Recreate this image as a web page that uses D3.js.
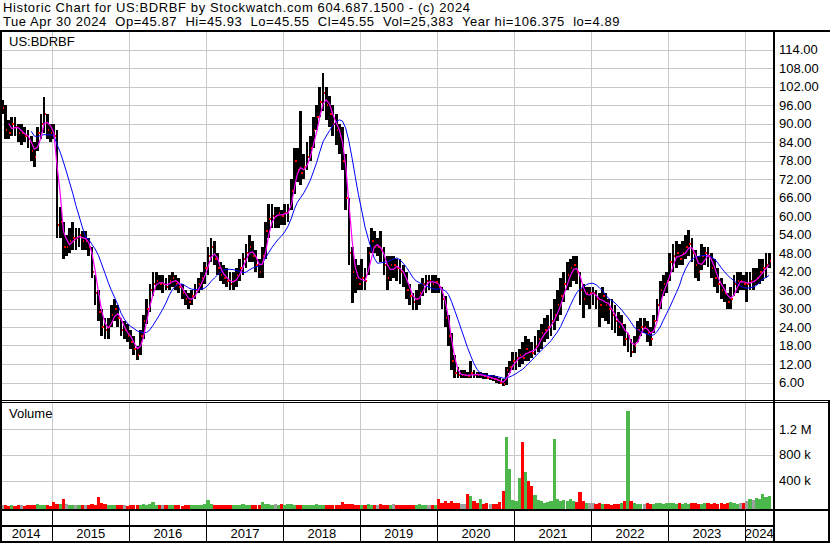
<!DOCTYPE html>
<html>
<head>
<meta charset="utf-8">
<script src="https://cdnjs.cloudflare.com/ajax/libs/d3/7.8.5/d3.min.js"></script>
<style>
  body { margin: 0; background: #fff; }
  text { font-family: "Liberation Sans", Arial, sans-serif; fill: #000; }
</style>
</head>
<body>
<script>
// half-monthly bars, May 2014 .. Apr 2024 (two per month)
var high = [
  97.5, 96, 91, 92, 92, 90, 90, 89, 88, 86, 84, 89, 93, 98.6, 93, 90,                          // 2014 May-Dec
  90, 88, 63, 58, 54, 56, 58, 56, 56, 55, 55, 53, 50, 41, 36, 30, 27, 27, 31, 33, 31, 27, 26, 25, // 2015
  23, 21, 18, 23, 28, 33, 38, 42, 42, 41, 41, 40, 41, 42, 41, 40, 38, 36, 35, 36, 38, 40, 42, 45, // 2016
  50, 53, 52, 48, 45, 44, 43, 42, 42, 43, 46, 48, 51, 54, 52, 49, 46, 50, 58, 64, 64, 63, 63, 62, // 2017
  64, 64, 72, 82, 82, 94, 80, 84, 86, 92, 96, 102, 106.4, 102, 99, 96, 93, 90, 89, 80, 66, 50, 46, 44, // 2018
  46, 43, 50, 56, 55, 53, 55, 50, 47, 47, 47, 46, 46, 44, 42, 38, 35, 36, 38, 40, 41, 41, 41, 41, // 2019
  40, 37, 34, 28, 22, 15, 11, 10, 10, 9.5, 13, 10, 9.5, 9.5, 9, 9, 8.5, 8.5, 8, 7.5, 7, 11, 13, 16, // 2020
  16, 17, 19, 21, 20, 19, 21, 23, 25, 27, 28, 30, 33, 36, 40, 42, 45, 46, 47, 47, 42, 38, 37, 37, // 2021
  37, 36, 35, 37, 35, 33, 33, 31, 29, 28, 25, 22, 20, 21, 26, 27, 27, 26, 24, 28, 33, 39, 41, 42, // 2022
  48, 51, 52, 51, 52, 54, 55.5, 53, 49, 47, 51, 50, 50, 48, 46, 43, 40, 38, 35, 37, 41, 42, 42, 41, // 2023
  42, 42, 43, 43, 46, 46, 48, 48                                                              // 2024 Jan-Apr
];
var low = [
  93, 85, 85, 86, 86, 84, 83, 84, 82, 78, 76, 81, 85, 87, 85, 84,
  85, 53, 53, 46, 47, 48, 49, 49, 50, 49, 49, 47, 40, 31, 26, 21, 20, 20, 24, 26, 24, 21, 20, 19,
  17, 15, 13.3, 15, 20, 25, 29, 34, 36, 36, 35, 36, 36, 37, 36, 35, 33, 31, 30, 31, 33, 35, 36, 38,
  41, 45, 44, 41, 39, 38, 37, 36, 36, 37, 39, 41, 43, 45, 45, 42, 40, 40, 46, 53, 56, 56, 56, 57,
  57, 58, 62, 67, 71, 70, 72, 75, 78, 82, 88, 92, 94, 91, 89, 86, 83, 80, 75, 62, 44, 31.7, 35, 36,
  36, 36, 41, 48, 48, 47, 45, 41, 36, 39, 40, 39, 38, 37, 33, 31, 29.5, 29.5, 31, 34, 35, 36, 35, 35,
  35, 30, 24, 18, 10, 7.5, 7.5, 7.5, 7.5, 7.5, 7.5, 7.5, 7.5, 7.5, 7, 7, 6.8, 6.5, 6, 5.5, 4.89, 5.2, 9, 10,
  10, 11, 12, 13, 13, 14, 15, 16, 17, 19, 20, 21, 23, 26, 28, 32, 36, 37, 39, 38, 31, 27, 31, 30,
  31, 30, 24, 27, 26, 25, 23, 22, 21, 21, 18, 16, 14.3, 15.5, 19, 21, 22, 19, 18, 22, 26, 30, 34, 35,
  39, 42, 43, 44, 44, 46, 47, 45, 40, 39, 42.5, 44, 43.5, 40, 37, 35, 33, 32, 30, 30, 34, 35, 36, 36,
  32, 36, 36, 37.5, 38, 39, 40, 43
];
var close = [
  95, 88, 87, 90, 89, 87, 87, 86, 85, 81, 79, 87, 90, 93, 88, 87,
  86, 57, 58, 50, 50, 52, 53, 53, 54, 52, 52, 50, 42, 35, 29, 24, 23, 24, 28, 30, 27, 23, 23, 21,
  19, 17, 15, 21, 26, 30, 36, 38, 39, 38, 38, 37, 39, 40, 38, 37, 35, 33, 32, 34, 36, 38, 40, 43,
  47, 50, 46, 43, 41, 40, 39, 38, 39, 41, 43, 46, 48, 50, 47, 44, 42, 47, 55, 59, 60, 60, 61, 60,
  61, 62, 68, 78, 75, 74, 76, 79, 82, 88, 92, 97, 100, 96, 93, 90, 88, 86, 78, 66, 48, 42, 40, 38,
  40, 39, 48, 52, 50, 50, 49, 44, 40, 44, 44, 43, 42, 41, 36, 34, 32, 33, 35, 38, 39, 39, 38, 38.5,
  37, 33, 27, 21, 13, 9, 8.5, 8.5, 8.5, 8, 9, 8.5, 8.4, 8.6, 8, 7.5, 7.5, 7, 6.8, 6, 5.5, 10, 11, 13,
  14, 15, 14, 17, 16, 15.5, 18, 20, 22, 23, 24, 26, 28, 31, 34, 38, 41, 43, 44, 42, 36, 33, 35, 35,
  35, 33, 31, 34, 31, 30, 28, 26, 24, 25, 20, 21, 16, 18, 23, 24, 24, 22, 20, 26, 31, 36, 38, 39,
  45, 47, 48, 46, 48, 50, 51, 48, 44, 42, 47, 48, 47, 43, 40, 38, 36, 35, 32, 33, 38, 39, 39, 38,
  38, 39, 39, 40, 42, 43, 44, 45.55
];
// volume in thousands of shares
var volume = [
  25, 18, 15, 20, 12, 18, 22, 15, 20, 16, 25, 38, 18, 22, 20, 15,
  70, 45, 40, 115, 35, 30, 22, 28, 18, 25, 20, 30, 35, 25, 146, 60, 45, 30, 25, 20, 28, 18, 22, 15,
  20, 25, 30, 22, 35, 28, 40, 75, 30, 25, 20, 18, 22, 25, 18, 20, 15, 22, 18, 20, 25, 30, 28, 35,
  100, 40, 30, 25, 20, 22, 18, 20, 25, 22, 30, 35, 28, 25, 20, 18, 22, 75, 45, 35, 30, 40, 28, 45,
  30, 45, 35, 30, 25, 28, 22, 20, 25, 30, 35, 30, 25, 22, 20, 25, 30, 28, 62, 40, 45, 38, 30, 25,
  22, 28, 45, 30, 25, 28, 40, 25, 20, 22, 35, 25, 20, 28, 22, 25, 18, 30, 35, 28, 22, 25, 30, 25,
  115, 60, 90, 50, 90, 60, 50, 40, 45, 200, 170, 90, 60, 110, 45, 50, 40, 35, 45, 75, 243, 1070, 577, 100,
  90, 443, 1000, 530, 397, 315, 175, 100, 80, 60, 70, 90, 1040, 120, 90, 100, 80, 110, 90, 70, 223, 90, 60, 50,
  50, 40, 60, 45, 35, 40, 30, 45, 35, 50, 90, 1470, 90, 50, 40, 45, 35, 50, 40, 45, 55, 50, 45, 60,
  60, 55, 45, 50, 40, 55, 45, 60, 50, 40, 45, 55, 50, 45, 60, 40, 50, 45, 55, 70, 50, 45, 60, 55,
  80, 110, 95, 130, 120, 190, 150, 170
];

var priceTicks = d3.range(6, 115, 6);
var volumeTicks = [400, 800, 1200];
var volumeLabels = ["400 k", "800 k", "1.2 M"];
var years = d3.range(2014, 2025);

var headerLine1 = "Historic Chart for US:BDRBF by Stockwatch.com 604.687.1500 - (c) 2024";
var headerLine2 = "Tue Apr 30 2024  Op=45.87  Hi=45.93  Lo=45.55  Cl=45.55  Vol=25,383  Year hi=106.375  lo=4.89";

var plotRight = 773;

// bar i sits on the 8th or 23rd of its month
var bars = close.map(function(c, i) {
  return {
    date: new Date(Date.UTC(2014, 4 + Math.floor(i / 2), i % 2 ? 23 : 8)),
    hi: high[i], lo: low[i], close: c, vol: volume[i],
    dir: i === 0 ? 0 : Math.sign(c - close[i - 1])
  };
});

var x = d3.scaleUtc()
    .domain([new Date(Date.UTC(2014, 3, 28)), new Date(Date.UTC(2024, 4, 11))])
    .range([0, plotRight]);
var y = d3.scaleLinear().domain([0, 120]).range([401, 31]);
var yv = d3.scaleLinear().domain([0, 1600]).range([506.5, 403]);

var svg = d3.select("body").append("svg").attr("width", 830).attr("height", 543);

// header
svg.append("text").attr("x", 3).attr("y", 12).attr("font-size", 13)
    .attr("letter-spacing", 0.62).style("white-space", "pre").text(headerLine1);
svg.append("text").attr("x", 3).attr("y", 26).attr("font-size", 13)
    .attr("letter-spacing", 0.55).style("white-space", "pre").text(headerLine2);

// grid
var yearStarts = years.slice(1).map(function(yr) { return new Date(Date.UTC(yr, 0, 1)); });
var grid = svg.append("g").attr("stroke", "#c8c8c8").attr("shape-rendering", "crispEdges");
grid.selectAll(".gp").data(priceTicks).enter().append("line")
    .attr("x1", 2).attr("x2", plotRight)
    .attr("y1", function(d) { return Math.round(y(d)) + 0.5; })
    .attr("y2", function(d) { return Math.round(y(d)) + 0.5; });
grid.selectAll(".gv").data(volumeTicks).enter().append("line")
    .attr("x1", 2).attr("x2", plotRight)
    .attr("y1", function(d) { return Math.round(yv(d)) + 0.5; })
    .attr("y2", function(d) { return Math.round(yv(d)) + 0.5; });
grid.selectAll(".gx").data(yearStarts).enter().append("path")
    .attr("d", function(d) {
      var xx = Math.round(x(d)) + 0.5;
      return "M" + xx + ",31V400M" + xx + ",403V509";
    });

// volume bars
svg.append("g").attr("shape-rendering", "crispEdges")
  .selectAll("rect").data(bars).enter().append("rect")
    .attr("x", function(d) { return x(d.date) - 1.6; })
    .attr("width", 3.2)
    .attr("y", function(d) { return yv(d.vol); })
    .attr("height", function(d) { return 509.5 - yv(d.vol); })
    .attr("fill", function(d) { return d.dir > 0 ? "#4cb84c" : d.dir < 0 ? "#ff0000" : "#a0a0a0"; });

// price bars: high-low in black, close tick in red
var pb = svg.append("g").attr("shape-rendering", "crispEdges");
pb.selectAll(".hl").data(bars).enter().append("rect")
    .attr("x", function(d) { return x(d.date) - 1.4; })
    .attr("width", 2.8)
    .attr("y", function(d) { return y(d.hi); })
    .attr("height", function(d) { return Math.max(1, y(d.lo) - y(d.hi)); })
    .attr("fill", "#000");
pb.selectAll(".cl").data(bars).enter().append("rect")
    .attr("x", function(d) { return x(d.date) + 0.6; })
    .attr("width", 1.5)
    .attr("y", function(d) { return y(d.close) - 1; })
    .attr("height", 2)
    .attr("fill", "#ff0000");

// moving averages of the close
function movingAvg(n) {
  return bars.map(function(d, i) {
    return i < n - 1 ? null : {date: d.date, value: d3.mean(close.slice(i - n + 1, i + 1))};
  }).filter(Boolean);
}
var line = d3.line()
    .x(function(d) { return x(d.date); })
    .y(function(d) { return y(d.value); });
svg.append("path").datum(movingAvg(10)).attr("d", line)
    .attr("fill", "none").attr("stroke", "#0000ff").attr("stroke-width", 1);
svg.append("path").datum(movingAvg(3)).attr("d", line)
    .attr("fill", "none").attr("stroke", "#ff00ff").attr("stroke-width", 1.2);

// frame
var frame = svg.append("g").attr("fill", "#000").attr("shape-rendering", "crispEdges");
[[0, 30, 830, 2], [0, 30, 2, 513], [plotRight, 30, 2, 513], [0, 400, 830, 1], [0, 402, 830, 1],
 [0, 509, 830, 2], [0, 525, 775, 2], [0, 541, 830, 2], [828, 400, 2, 143]].forEach(function(r) {
  frame.append("rect").attr("x", r[0]).attr("y", r[1]).attr("width", r[2]).attr("height", r[3]);
});
frame.selectAll(".tk").data(yearStarts).enter().append("rect")
    .attr("x", function(d) { return Math.round(x(d)); })
    .attr("y", 509).attr("width", 1).attr("height", 33);

// panel titles
svg.append("text").attr("x", 9).attr("y", 46).attr("font-size", 13).text("US:BDRBF");
svg.append("text").attr("x", 9).attr("y", 418).attr("font-size", 13).text("Volume");

// right axis labels
svg.append("g").selectAll("text").data(priceTicks).enter().append("text")
    .attr("x", 779).attr("y", function(d) { return y(d); }).attr("dy", "0.36em")
    .attr("font-size", 13).text(function(d) { return d.toFixed(2); });
svg.append("g").selectAll("text").data(volumeTicks).enter().append("text")
    .attr("x", 779).attr("y", function(d) { return yv(d); }).attr("dy", "0.36em")
    .attr("font-size", 13).text(function(d, i) { return volumeLabels[i]; });

// year labels centred in their cells
svg.append("g").selectAll("text").data(years).enter().append("text")
    .attr("x", function(yr) {
      var a = Math.max(0, x(new Date(Date.UTC(yr, 0, 1))));
      var b = Math.min(plotRight, x(new Date(Date.UTC(yr + 1, 0, 1))));
      return (a + b) / 2;
    })
    .attr("y", 538).attr("text-anchor", "middle").attr("font-size", 13)
    .text(function(yr) { return yr; });
</script>
</body>
</html>
